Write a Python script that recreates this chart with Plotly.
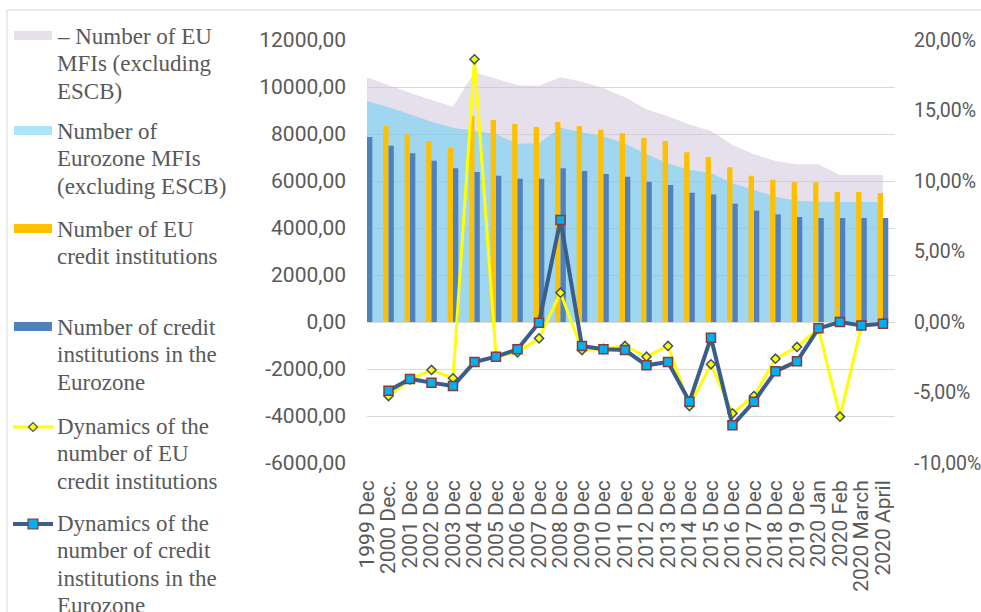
import plotly.graph_objects as go

# ---------------- data ----------------
categories = ["1999 Dec", "2000 Dec.", "2001 Dec", "2002 Dec", "2003 Dec", "2004 Dec",
              "2005 Dec", "2006 Dec", "2007 Dec", "2008 Dec", "2009 Dec", "2010 Dec",
              "2011 Dec", "2012 Dec", "2013 Dec", "2014 Dec", "2015 Dec", "2016 Dec",
              "2017 Dec", "2018 Dec", "2019 Dec", "2020 Jan", "2020 Feb", "2020 March",
              "2020 April"]

eu_mfis = [10413, 10072, 9759, 9447, 9163, 10624, 10355, 10072, 10057, 10413, 10227, 9943,
           9560, 9049, 8760, 8400, 8130, 7532, 7135, 6851, 6709, 6709, 6255, 6255, 6255]

ez_mfis = [9404, 9135, 8837, 8525, 8270, 8128, 7986, 7589, 7603, 8270, 8060, 7890,
           7600, 7140, 6750, 6470, 6340, 5901, 5617, 5333, 5163, 5121, 5106, 5106, 5106]

eu_ci = [8780, 8340, 7986, 7702, 7418, 8780, 8596, 8426, 8298, 8511, 8340, 8180,
         8028, 7825, 7702, 7228, 7021, 6582, 6227, 6057, 5943, 5943, 5532, 5532, 5489]

ez_ci = [7872, 7504, 7177, 6865, 6539, 6383, 6227, 6099, 6099, 6539, 6426, 6298,
         6180, 5972, 5825, 5500, 5425, 5035, 4738, 4582, 4468, 4426, 4426, 4426, 4426]

eu_dyn = [None, -0.0525, -0.0407, -0.0340, -0.0399, 0.1863, -0.0246, -0.0215, -0.0116,
          0.0208, -0.0199, -0.0190, -0.0170, -0.0246, -0.0170, -0.0596, -0.0300, -0.0648,
          -0.0525, -0.0260, -0.0177, -0.0045, -0.0671, -0.0024, -0.0012]

ez_dyn = [None, -0.0487, -0.0404, -0.0430, -0.0454, -0.0284, -0.0246, -0.0194, -0.0005,
          0.0723, -0.0170, -0.0194, -0.0199, -0.0307, -0.0284, -0.0565, -0.0111, -0.0733,
          -0.0565, -0.0350, -0.0279, -0.0045, 0.0000, -0.0024, -0.0012]

left_tickvals = [-6000, -4000, -2000, 0, 2000, 4000, 6000, 8000, 10000, 12000]
left_ticktext = ["-6000,00", "-4000,00", "-2000,00", "0,00", "2000,00", "4000,00",
                 "6000,00", "8000,00", "10000,00", "12000,00"]
right_tickvals = [-0.10, -0.05, 0.0, 0.05, 0.10, 0.15, 0.20]
right_ticktext = ["-10,00%", "-5,00%", "0,00%", "5,00%", "10,00%", "15,00%", "20,00%"]

legend_entries = [
    ["– Number of EU", "MFIs (excluding", "ESCB)"],
    ["Number of", "Eurozone MFIs", "(excluding ESCB)"],
    ["Number of EU", "credit institutions"],
    ["Number of credit", "institutions in the", "Eurozone"],
    ["Dynamics of the", "number of EU", "credit institutions"],
    ["Dynamics of the", "number of credit", "institutions in the", "Eurozone"],
]

# ---------------- styles ----------------
W, H = 981, 612
L, R, T, B = 367, 895, 40, 463
PW, PH = R - L, B - T

LAV = "rgba(204,193,218,0.5)"
LBLUE = "rgba(91,203,241,0.5)"
ORANGE = "#FFC000"
BARBLUE = "#4F81BD"
YELLOW = "#FFFF00"
LINEBLUE = "#3A5D8C"
SQFILL = "#00B0F0"
SQEDGE = "#8B3A3A"
DIAEDGE = "#3E5272"
TXT = "#595959"
GRID = "#D9D9D9"
AXFONT = dict(family="Roboto", size=21, color=TXT)
RFONT = dict(family="Roboto", size=19.5, color=TXT)


def px_x(px):
    return (px - L) / PW


def px_y(py):
    return (B - py) / PH


fig = go.Figure()

# areas (main subplot, lowest layer)
fig.add_trace(go.Scatter(x=categories, y=eu_mfis, fill="tozeroy", mode="none",
                         fillcolor=LAV, yaxis="y", showlegend=False, hoverinfo="skip"))
fig.add_trace(go.Scatter(x=categories, y=ez_mfis, fill="tozeroy", mode="none",
                         fillcolor=LBLUE, yaxis="y", showlegend=False, hoverinfo="skip"))

# bars (overlay y2)
fig.add_trace(go.Bar(x=categories, y=eu_ci, marker=dict(color=ORANGE, line=dict(width=0)),
                     yaxis="y2", showlegend=False))
fig.add_trace(go.Bar(x=categories, y=ez_ci, marker=dict(color=BARBLUE, line=dict(width=0)),
                     yaxis="y2", showlegend=False))

# lines (overlay y3, right axis)
fig.add_trace(go.Scatter(x=categories, y=eu_dyn, mode="lines+markers", yaxis="y3",
                         line=dict(color=YELLOW, width=3),
                         marker=dict(symbol="diamond", size=7, color=YELLOW,
                                     line=dict(color=DIAEDGE, width=1.5)),
                         showlegend=False))
fig.add_trace(go.Scatter(x=categories, y=ez_dyn, mode="lines+markers", yaxis="y3",
                         line=dict(color=LINEBLUE, width=4),
                         marker=dict(symbol="square", size=9, color=SQFILL,
                                     line=dict(color=SQEDGE, width=1.5)),
                         showlegend=False))

fig.update_layout(
    template="none",
    width=W, height=H, autosize=False,
    margin=dict(l=L, r=W - R, t=T, b=H - B, pad=0),
    paper_bgcolor="white", plot_bgcolor="white",
    barmode="group", bargap=0.506, bargroupgap=0,
    showlegend=False,
    xaxis=dict(type="category", range=[0, 24.56], tickangle=-90, tickfont=AXFONT,
               tickmode="array", tickvals=categories, ticktext=categories,
               showgrid=False, zeroline=False, showline=False, ticks="",
               ticklabelstandoff=12, automargin=False),
    yaxis=dict(range=[-6000, 12000], tickvals=left_tickvals, ticktext=left_ticktext,
               tickfont=AXFONT, showgrid=True, gridcolor=GRID, gridwidth=1,
               zeroline=False, showline=False, ticks="", ticklabelstandoff=20,
               automargin=False),
    yaxis2=dict(range=[-6000, 12000], overlaying="y", visible=False, automargin=False),
    yaxis3=dict(range=[-0.10, 0.20], overlaying="y", side="right", anchor="x",
                tickvals=right_tickvals, ticktext=right_ticktext, tickfont=RFONT,
                showgrid=False, zeroline=False, showline=False, ticks="",
                ticklabelstandoff=18, automargin=False),
)

# chart-area border (continues beyond the right and bottom picture edges)
shapes = [dict(type="rect", xref="paper", yref="paper", x0=px_x(7), x1=px_x(995),
               y0=px_y(640), y1=px_y(10), line=dict(color=GRID, width=1),
               fillcolor="rgba(0,0,0,0)", layer="below")]

# manual legend (Excel-style, equal spacing)
entry_tops = [37, 132, 230, 328, 427, 524]
for i, top in enumerate(entry_tops):
    col = [LAV, LBLUE, ORANGE, BARBLUE, None, None][i]
    if col is not None:
        shapes.append(dict(type="rect", xref="paper", yref="paper",
                           x0=px_x(14), x1=px_x(52), y0=px_y(top + 3), y1=px_y(top - 6),
                           fillcolor=col, line=dict(width=0)))
    elif i == 4:
        shapes.append(dict(type="line", xref="paper", yref="paper",
                           x0=px_x(13), x1=px_x(53), y0=px_y(top), y1=px_y(top),
                           line=dict(color=YELLOW, width=3)))
        cx, cy, r = 33, top, 4.5
        path = "M {},{} L {},{} L {},{} L {},{} Z".format(
            px_x(cx - r), px_y(cy), px_x(cx), px_y(cy - r),
            px_x(cx + r), px_y(cy), px_x(cx), px_y(cy + r))
        shapes.append(dict(type="path", xref="paper", yref="paper", path=path,
                           fillcolor=YELLOW, line=dict(color=DIAEDGE, width=1.2)))
    else:
        shapes.append(dict(type="line", xref="paper", yref="paper",
                           x0=px_x(13), x1=px_x(53), y0=px_y(top), y1=px_y(top),
                           line=dict(color=LINEBLUE, width=4)))
        shapes.append(dict(type="rect", xref="paper", yref="paper",
                           x0=px_x(28), x1=px_x(38), y0=px_y(top + 5), y1=px_y(top - 5),
                           fillcolor=SQFILL, line=dict(color=SQEDGE, width=1.2)))

annotations = []
for top, lines in zip(entry_tops, legend_entries):
    for j, line in enumerate(lines):
        annotations.append(dict(xref="paper", yref="paper", x=px_x(55),
                                y=px_y(top - 0.5 + 27.3 * j),
                                xanchor="left", yanchor="middle", showarrow=False,
                                text=line,
                                font=dict(family="Liberation Serif", size=23, color=TXT)))

fig.update_layout(shapes=shapes, annotations=annotations)

fig.write_html("out.html",
               config={"displayModeBar": False},
               post_script="document.body.style.margin='0px';"
                           "document.body.style.overflow='hidden';")
